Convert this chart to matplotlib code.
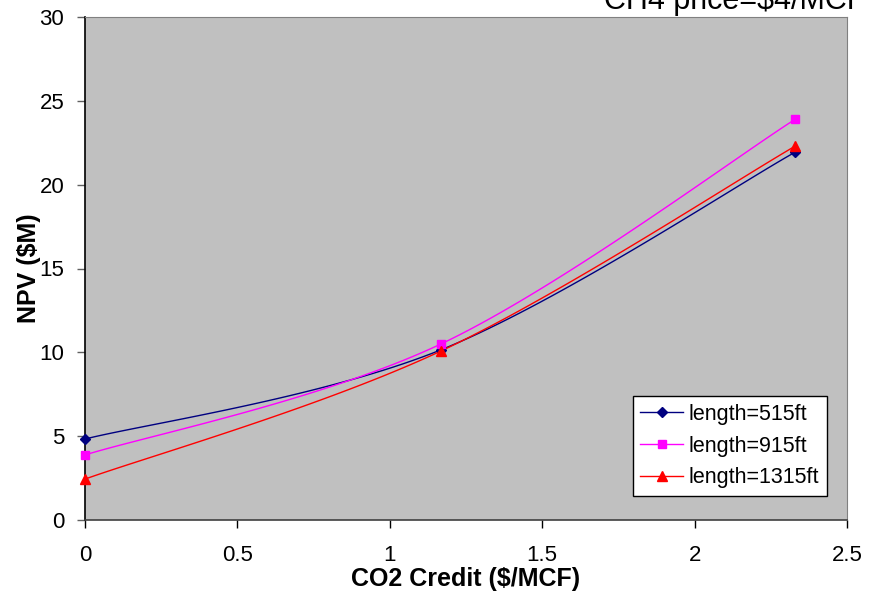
import numpy as np
import matplotlib
matplotlib.use("Agg")
import matplotlib.pyplot as plt
from matplotlib.lines import Line2D

plt.rcParams['font.family'] = ['Liberation Sans', 'DejaVu Sans']

co2_credit = [0.0, 1.168, 2.33]
npv_515 = [4.83, 10.15, 21.94]
npv_915 = [3.88, 10.5, 23.9]
npv_1315 = [2.44, 10.08, 22.3]
series_labels = ["length=515ft", "length=915ft", "length=1315ft"]
title_text = "CH4 price=$4/MCF"


def smooth(xs, ys, n=40):
    pts = np.column_stack([xs, ys]).astype(float)
    out = []
    for i in range(len(pts) - 1):
        p0 = pts[i - 1] if i > 0 else pts[i]
        p1 = pts[i]
        p2 = pts[i + 1]
        p3 = pts[i + 2] if i + 2 < len(pts) else pts[i + 1]
        c1 = p1 + (p2 - p0) / 6.0
        c2 = p2 - (p3 - p1) / 6.0
        t = np.linspace(0, 1, n)[:, None]
        seg = ((1 - t) ** 3) * p1 + 3 * ((1 - t) ** 2) * t * c1 + 3 * (1 - t) * t ** 2 * c2 + t ** 3 * p2
        out.append(seg if i == 0 else seg[1:])
    s = np.vstack(out)
    return s[:, 0], s[:, 1]


fig = plt.figure(figsize=(8.8, 5.94), dpi=100)
ax = fig.add_axes([85 / 880, 74 / 594, 762 / 880, 503 / 594])
ax.set_facecolor('#C0C0C0')

styles = [('#000080', 'D', 5), ('#FF00FF', 's', 5.5), ('#FF0000', '^', 6.5)]
handles = []
for ys, (c, m, ms), lab in zip([npv_515, npv_915, npv_1315], styles, series_labels):
    sx, sy = smooth(co2_credit, ys)
    ax.plot(sx, sy, color=c, lw=1.0, zorder=3)
    ax.plot(co2_credit, ys, ls='none', marker=m, ms=ms, color=c, mec=c, zorder=4, clip_on=False)
    handles.append(Line2D([0], [0], color=c, lw=1.0, marker=m, ms=ms, mec=c))

ax.set_xlim(0, 2.5)
ax.set_ylim(0, 30)
ax.set_xticks([0, 0.5, 1, 1.5, 2, 2.5])
ax.set_xticklabels(['0', '0.5', '1', '1.5', '2', '2.5'])
ax.set_yticks([0, 5, 10, 15, 20, 25, 30])
ax.tick_params(axis='both', direction='out', length=6, width=1, labelsize=16)
ax.tick_params(axis='y', pad=9, color='#606060')
ax.tick_params(axis='x', pad=12, color='black')
for s in ['top', 'right']:
    ax.spines[s].set_color('#808080')
ax.spines['left'].set_color('black')
ax.spines['bottom'].set_color('#404040')
for s in ['left', 'bottom']:
    ax.spines[s].set_linewidth(1.2)

ax.set_xlabel('CO2 Credit ($/MCF)', fontsize=18, fontweight='bold', labelpad=1)
ax.set_ylabel('NPV ($M)', fontsize=18, fontweight='bold', labelpad=-1)

leg = ax.legend(handles, series_labels, loc='lower right', bbox_to_anchor=(0.9735, 0.048),
                fontsize=15.5, frameon=True, fancybox=False, handlelength=2.0,
                borderpad=0.35, labelspacing=0.5, handletextpad=0.25, borderaxespad=0)
leg.get_frame().set_edgecolor('black')
leg.get_frame().set_linewidth(1.0)
leg.get_frame().set_facecolor('white')
leg.get_frame().set_alpha(1)

fig.text(865 / 880, 1 - 9 / 594, title_text, ha='right', va='baseline', fontsize=22)

fig.savefig('out.png', dpi=100, facecolor='white')
